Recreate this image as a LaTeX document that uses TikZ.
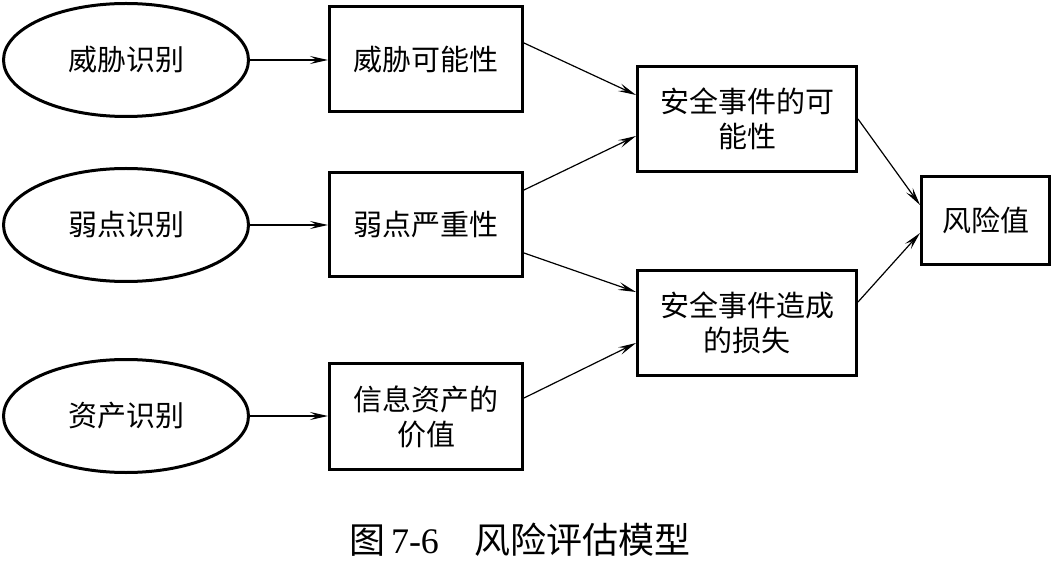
\documentclass[tikz,border=0pt]{standalone}
\usepackage{fontspec}
\setmainfont{Noto Sans CJK SC}
\newfontfamily\tnr{Liberation Serif}
\usetikzlibrary{shapes.geometric,arrows.meta}
\tikzset{
  ell/.style={ellipse,draw,line width=3pt,inner sep=0pt,font=\fontsize{29}{35}\selectfont},
  box/.style={rectangle,draw,line width=3pt,inner sep=0pt,align=center,font=\fontsize{29}{35}\selectfont},
  arr/.style={line width=1.2pt,-{Stealth[length=18pt,width=8pt,inset=7pt]}}
}
\begin{document}
\begin{tikzpicture}[x=1pt,y=-1pt]
\useasboundingbox (0,0) rectangle (1052,561);
\node[ell,minimum width=245pt,minimum height=113pt] (e1) at (126,60) {威胁识别};
\node[ell,minimum width=245pt,minimum height=113pt] (e2) at (126,225) {弱点识别};
\node[ell,minimum width=245pt,minimum height=113pt] (e3) at (126,416) {资产识别};
\node[box,minimum width=193pt,minimum height=105pt] (b1) at (426,59) {威胁可能性};
\node[box,minimum width=193pt,minimum height=104pt] (b2) at (426,224.5) {弱点严重性};
\node[box,minimum width=193pt,minimum height=106pt] (b3) at (426,416.5) {信息资产的\\价值};
\node[box,minimum width=219pt,minimum height=105pt] (p) at (747,119) {安全事件的可\\能性};
\node[box,minimum width=219pt,minimum height=105pt] (l) at (747,323) {安全事件造成\\的损失};
\node[box,minimum width=128pt,minimum height=88pt] (r) at (985.5,220.5) {风险值};
\node[inner sep=0pt,font=\fontsize{36}{40}\selectfont] (cap) at (520,540) {图\,{\tnr 7-6}\hspace{1em}风险评估模型};
\draw[arr] (e1.east) -- (e1.east -| b1.west);
\draw[arr] (e2.east) -- (e2.east -| b2.west);
\draw[arr] (e3.east) -- (e3.east -| b3.west);
\draw[arr] ([yshift=-38pt]b1.north east) -- ([yshift=-30pt]p.north west);
\draw[arr] ([yshift=-19pt]b2.north east) -- ([yshift=37pt]p.south west);
\draw[arr] ([yshift=25pt]b2.south east) -- ([yshift=-23pt]l.north west);
\draw[arr] ([yshift=-36pt]b3.north east) -- ([yshift=34pt]l.south west);
\draw[arr] (p.east) -- ([yshift=-30pt]r.north west);
\draw[arr] ([yshift=-33pt]l.north east) -- ([yshift=33pt]r.south west);
\end{tikzpicture}
\end{document}
